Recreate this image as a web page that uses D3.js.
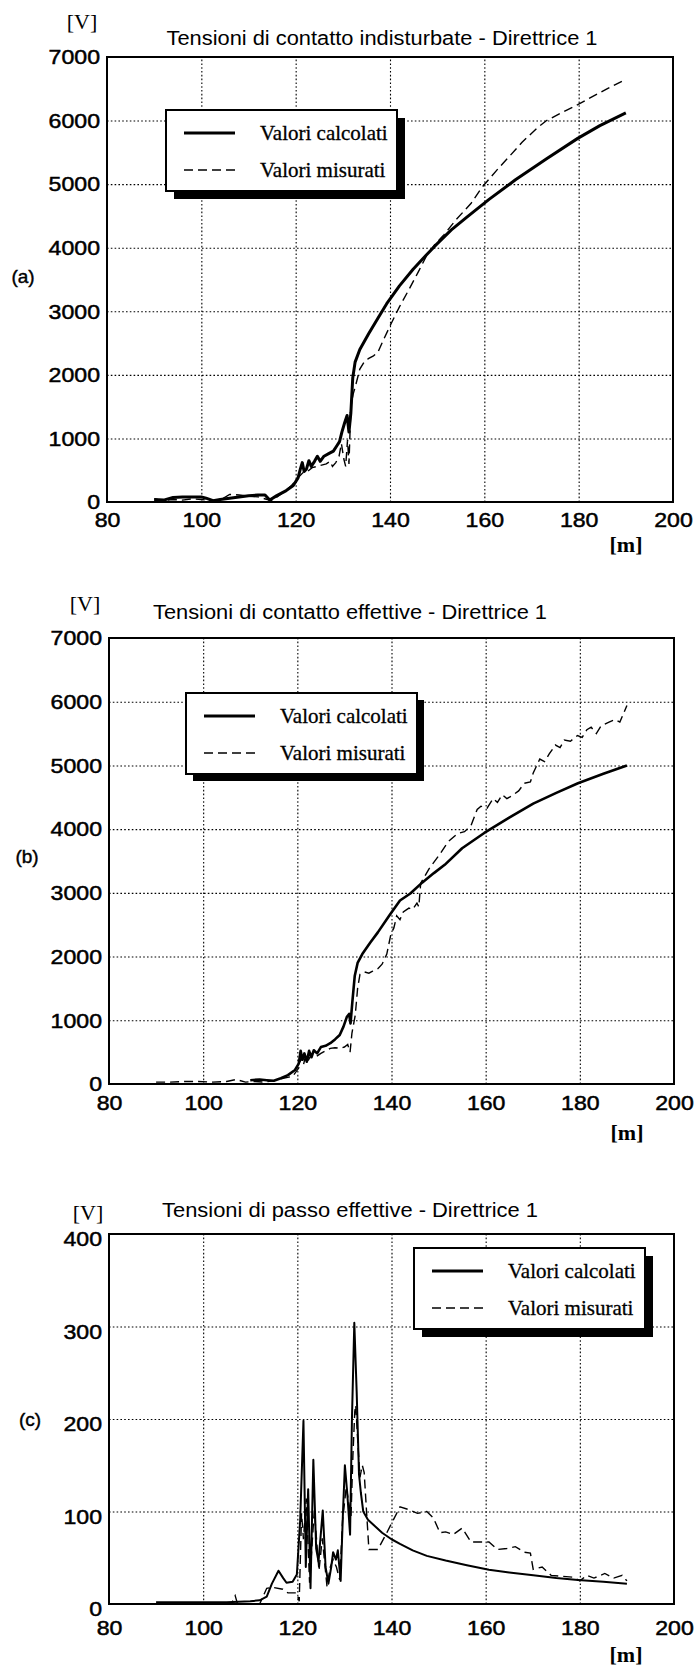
<!DOCTYPE html>
<html>
<head>
<meta charset="utf-8">
<script src="https://cdnjs.cloudflare.com/ajax/libs/d3/7.8.5/d3.min.js"></script>
<style>
  body { margin: 0; background: #fff; }
</style>
</head>
<body>
<div id="vis-container"></div>
<script>
// ---- data: [distance m, voltage V] ----
const aCalc = [[90,40],[92,30],[94,70],[96,80],[98,80],[100,80],[101,60],[102.5,20],[104,40],[106,60],[108,80],[110,100],[112,110],[113.5,110],[114.5,30],[116,100],[118,180],[119.5,260],[120.5,380],[121,520],[121.4,620],[121.8,480],[122.3,520],[122.8,650],[123.3,560],[124,640],[124.6,720],[125.2,640],[126,720],[127,760],[128,800],[128.7,880],[129.3,950],[129.8,1100],[130.4,1250],[130.9,1360],[131.3,1100],[131.7,1400],[132.1,1950],[132.6,2200],[133.6,2400],[135.5,2650],[137.5,2900],[139.3,3120],[142,3400],[144.9,3660],[147.5,3870],[149.7,4040],[153,4280],[156.3,4480],[161,4760],[166.6,5070],[173.2,5400],[179.8,5720],[184.5,5920],[190,6120]];
const aMeas = [[90,50],[92,20],[94,40],[96,30],[98,50],[100,40],[102,20],[104,30],[106,120],[108,110],[110,90],[112,80],[114,40],[115,20],[117,130],[119,250],[120.5,380],[121.5,460],[122.5,480],[123.5,540],[124.5,560],[125.5,580],[126.5,600],[127.3,640],[127.8,560],[128.5,620],[129.2,720],[129.7,920],[130.2,680],[130.6,560],[131,980],[131.3,600],[131.7,1500],[132.2,1700],[132.7,1830],[133.6,2090],[134.5,2200],[135.5,2260],[136.5,2300],[137.4,2350],[138.8,2580],[140.2,2800],[142,3070],[144,3340],[146,3620],[147.8,3880],[149.5,4050],[151.5,4210],[154,4440],[157.2,4700],[159.5,4950],[161,5080],[163,5250],[165.6,5460],[168,5660],[171.3,5890],[173.2,6000],[176,6110],[179.8,6250],[183,6380],[186,6500],[190,6650]];

const bCalc = [[110,60],[112,70],[113.5,60],[115,50],[116.5,90],[118,140],[119.5,220],[120.3,320],[120.7,520],[121.1,380],[121.5,480],[122,350],[122.5,520],[123,420],[123.5,530],[124.2,480],[125,580],[126,600],[127,640],[128,700],[129,770],[129.8,900],[130.5,1050],[131,1100],[131.3,950],[131.7,1300],[132.2,1700],[132.8,1900],[133.8,2040],[135.5,2220],[137.1,2380],[139.5,2640],[141.8,2880],[144,2990],[146.5,3160],[149,3310],[151.3,3440],[155,3700],[159.7,3940],[165,4180],[170.1,4400],[175,4570],[179.6,4720],[185,4870],[190,5000]];
const bMeas = [[90,30],[93,30],[96,40],[99,40],[102,30],[105,40],[107,70],[109,30],[111,40],[113,30],[115,50],[117,90],[119,120],[120.3,250],[120.8,420],[121.3,300],[121.8,460],[122.4,380],[123,470],[124,430],[125,480],[126,520],[127,560],[128,570],[129,560],[130,580],[130.7,620],[131.2,500],[131.6,800],[132.3,1080],[132.8,1500],[133.3,1720],[134.2,1760],[135.2,1740],[136,1770],[137.1,1810],[138,1880],[139,2040],[139.9,2360],[140.5,2450],[141.1,2640],[141.8,2580],[142.5,2700],[143.7,2760],[144.5,2740],[145.4,2840],[145.8,2780],[146.2,3150],[148,3380],[150.3,3610],[152,3800],[154,3930],[155.5,3960],[156.9,4060],[158.2,4310],[159,4360],[160.3,4330],[161.6,4480],[162.5,4420],[163.5,4540],[164.5,4480],[165.5,4520],[167,4600],[168.2,4720],[169.5,4740],[170.1,4880],[171.5,5100],[172.5,5060],[173.5,5180],[174.8,5320],[175.8,5280],[176.7,5400],[178,5380],[179.5,5470],[180.5,5440],[181.5,5560],[182.4,5600],[183.5,5500],[184.5,5620],[186.2,5680],[187.5,5720],[188.5,5680],[190,5940]];

const cCalc = [[90,2],[95,2],[100,2],[105,2],[110,3],[112,4],[113.5,8],[114.6,22],[116,36],[117,28],[117.7,23],[119,24],[119.9,32],[120.6,90],[121.3,198],[121.8,40],[122.3,124],[122.8,17],[123.4,156],[124,60],[124.5,46],[125.4,101],[126,40],[126.6,22],[127.2,40],[127.6,56],[128.2,48],[128.6,58],[129.2,25],[129.7,100],[130.1,150],[130.6,120],[131.2,75],[131.6,200],[132.1,304],[132.6,230],[133.1,140],[133.5,120],[134,100],[135,91],[136.5,84],[138,77],[140,70],[141.8,65],[144.5,58],[147.5,52],[151.5,47],[156,42],[160.7,37],[165,34],[170.1,31],[175,28],[179.6,26],[185,24],[190,22]];
const cMeas = [[90,0],[106,0],[106.8,9],[107.3,0],[112,0],[113.5,17],[114.8,18],[116.9,16],[118,12],[119.9,12],[120.4,3],[120.9,98],[121.3,70],[121.9,114],[122.6,23],[123.6,101],[124.6,36],[125.3,71],[126.3,19],[127,40],[127.6,48],[128.3,40],[129,26],[129.6,90],[130.4,127],[130.9,110],[131.4,95],[131.8,160],[132.2,208],[132.4,215],[132.9,170],[133.3,137],[133.8,150],[134.2,142],[134.7,100],[135.2,59],[137.1,59],[139,77],[140.5,92],[141.8,105],[143.7,102],[145.5,98],[147.5,100],[148.9,93],[150.3,77],[151.5,78],[153.1,75],[155,82],[156.9,67],[160.7,67],[162.5,59],[164.5,60],[166.3,62],[168.2,56],[169.5,55],[170.1,37.5],[172,40],[173.9,31],[176,30],[178.6,29],[180,25],[181.5,31],[183,28],[185.3,33],[187.2,28],[189,31],[190,25]];

const xTicks = [80, 100, 120, 140, 160, 180, 200];
const yTicksContact = [0, 1000, 2000, 3000, 4000, 5000, 6000, 7000];
const yTicksStep = [0, 100, 200, 300, 400];
const legendLabels = ["Valori calcolati", "Valori misurati"];
const titles = [
  "Tensioni di contatto indisturbate - Direttrice 1",
  "Tensioni di contatto effettive - Direttrice 1",
  "Tensioni di passo effettive - Direttrice 1"
];
const panelTags = ["(a)", "(b)", "(c)"];

// ---- page ----
const width = 697;
const height = 1669;

const svg = d3.select("#vis-container")
  .append("svg")
  .attr("width", width)
  .attr("height", height);

// layout of the three stacked plots
const panels = [
  { calc: aCalc, meas: aMeas, yTicks: yTicksContact, yMax: 7000,
    left: 107, right: 673, top: 57, bottom: 502, solidW: 3,
    title: [382, 45, 431], vLab: [82, 29], mLab: [626, 552], tag: [23, 283],
    legend: [166, 110], shadow: 8, xPad: 10, yShift: 0 },
  { calc: bCalc, meas: bMeas, yTicks: yTicksContact, yMax: 7000,
    left: 109, right: 674, top: 638, bottom: 1084, solidW: 2.6,
    title: [350, 619, 394], vLab: [85, 611], mLab: [627, 1140], tag: [27, 863],
    legend: [186, 693], shadow: 7, xPad: 11, yShift: 0 },
  { calc: cCalc, meas: cMeas, yTicks: yTicksStep, yMax: 400,
    left: 109, right: 674, top: 1234, bottom: 1604, solidW: 2,
    title: [350, 1217, 376], vLab: [88, 1220], mLab: [626, 1662], tag: [30, 1426],
    legend: [414, 1248], shadow: 8, xPad: 16, yShift: 5 }
];

// widen scanned-looking digits a bit
function stretch(sel, k) {
  sel.attr("textLength", function () { return this.getComputedTextLength() * k; })
    .attr("lengthAdjust", "spacingAndGlyphs");
}

panels.forEach((p, i) => {
  const g = svg.append("g");

  const xScale = d3.scaleLinear().domain([80, 200]).range([p.left, p.right]);
  const yScale = d3.scaleLinear().domain([0, p.yMax]).range([p.bottom, p.top]);

  // dotted grid
  g.append("g")
    .attr("transform", `translate(0,${p.bottom})`)
    .call(d3.axisBottom(xScale).tickValues(xTicks.slice(1, -1))
      .tickSize(-(p.bottom - p.top)).tickFormat(""))
    .call((s) => s.select(".domain").remove())
    .selectAll("line")
    .attr("stroke", "#000")
    .attr("stroke-width", 1.1)
    .attr("stroke-dasharray", "1.6,2.2");

  g.append("g")
    .attr("transform", `translate(${p.left},0)`)
    .call(d3.axisLeft(yScale).tickValues(p.yTicks.slice(1, -1))
      .tickSize(-(p.right - p.left)).tickFormat(""))
    .call((s) => s.select(".domain").remove())
    .selectAll("line")
    .attr("stroke", "#000")
    .attr("stroke-width", 1.1)
    .attr("stroke-dasharray", "1.6,2.2");

  // tick labels
  g.append("g")
    .attr("transform", `translate(0,${p.bottom})`)
    .call(d3.axisBottom(xScale).tickValues(xTicks).tickFormat(d3.format("d"))
      .tickSize(0).tickPadding(p.xPad))
    .call((s) => s.select(".domain").remove())
    .selectAll("text")
    .attr("font-family", "Liberation Sans, Arial, sans-serif")
    .attr("font-size", "21px")
    .attr("fill", "#000")
    .attr("stroke", "#000")
    .attr("stroke-width", 0.5)
    .call(stretch, 1.1);

  g.append("g")
    .attr("transform", `translate(${p.left},${p.yShift})`)
    .call(d3.axisLeft(yScale).tickValues(p.yTicks).tickFormat(d3.format("d"))
      .tickSize(0).tickPadding(7))
    .call((s) => s.select(".domain").remove())
    .selectAll("text")
    .attr("font-family", "Liberation Sans, Arial, sans-serif")
    .attr("font-size", "21px")
    .attr("fill", "#000")
    .attr("stroke", "#000")
    .attr("stroke-width", 0.5)
    .call(stretch, 1.1);

  // series
  const line = d3.line()
    .x((d) => xScale(d[0]))
    .y((d) => yScale(d[1]));

  g.append("path")
    .datum(p.meas)
    .attr("d", line)
    .attr("fill", "none")
    .attr("stroke", "#000")
    .attr("stroke-width", 1.4)
    .attr("stroke-dasharray", "9,5");

  g.append("path")
    .datum(p.calc)
    .attr("d", line)
    .attr("fill", "none")
    .attr("stroke", "#000")
    .attr("stroke-width", p.solidW)
    .attr("stroke-linejoin", "round");

  // frame
  g.append("rect")
    .attr("x", p.left)
    .attr("y", p.top)
    .attr("width", p.right - p.left)
    .attr("height", p.bottom - p.top)
    .attr("fill", "none")
    .attr("stroke", "#000")
    .attr("stroke-width", 2);

  // title
  g.append("text")
    .attr("x", p.title[0])
    .attr("y", p.title[1])
    .attr("text-anchor", "middle")
    .attr("font-family", "Liberation Sans, Arial, sans-serif")
    .attr("font-size", "20px")
    .attr("textLength", p.title[2])
    .attr("lengthAdjust", "spacingAndGlyphs")
    .text(titles[i]);

  // unit labels
  g.append("text")
    .attr("x", p.vLab[0])
    .attr("y", p.vLab[1])
    .attr("text-anchor", "middle")
    .attr("font-family", "Liberation Serif, Times New Roman, serif")
    .attr("font-size", "22px")
    .text("[V]");

  g.append("text")
    .attr("x", p.mLab[0])
    .attr("y", p.mLab[1])
    .attr("text-anchor", "middle")
    .attr("font-family", "Liberation Serif, Times New Roman, serif")
    .attr("font-size", "22px")
    .attr("font-weight", "bold")
    .text("[m]");

  g.append("text")
    .attr("x", p.tag[0])
    .attr("y", p.tag[1])
    .attr("text-anchor", "middle")
    .attr("font-family", "Liberation Sans, Arial, sans-serif")
    .attr("font-size", "19px")
    .attr("stroke", "#000")
    .attr("stroke-width", 0.4)
    .text(panelTags[i]);

  // legend with drop shadow
  const lw = 231, lh = 81;
  const lg = g.append("g")
    .attr("transform", `translate(${p.legend[0]},${p.legend[1]})`);

  lg.append("rect")
    .attr("x", p.shadow)
    .attr("y", p.shadow)
    .attr("width", lw)
    .attr("height", lh)
    .attr("fill", "#000");

  lg.append("rect")
    .attr("width", lw)
    .attr("height", lh)
    .attr("fill", "#fff")
    .attr("stroke", "#000")
    .attr("stroke-width", 2);

  legendLabels.forEach((lab, k) => {
    const ly = k === 0 ? 23 : 60;
    lg.append("line")
      .attr("x1", 18)
      .attr("x2", 69)
      .attr("y1", ly)
      .attr("y2", ly)
      .attr("stroke", "#000")
      .attr("stroke-width", k === 0 ? 3 : 1.4)
      .attr("stroke-dasharray", k === 0 ? null : "9,5");

    lg.append("text")
      .attr("x", 94)
      .attr("y", ly)
      .attr("dy", "0.35em")
      .attr("font-family", "Liberation Serif, Times New Roman, serif")
      .attr("font-size", "21px")
      .attr("stroke", "#000")
      .attr("stroke-width", 0.3)
      .text(lab);
  });
});
</script>
</body>
</html>
